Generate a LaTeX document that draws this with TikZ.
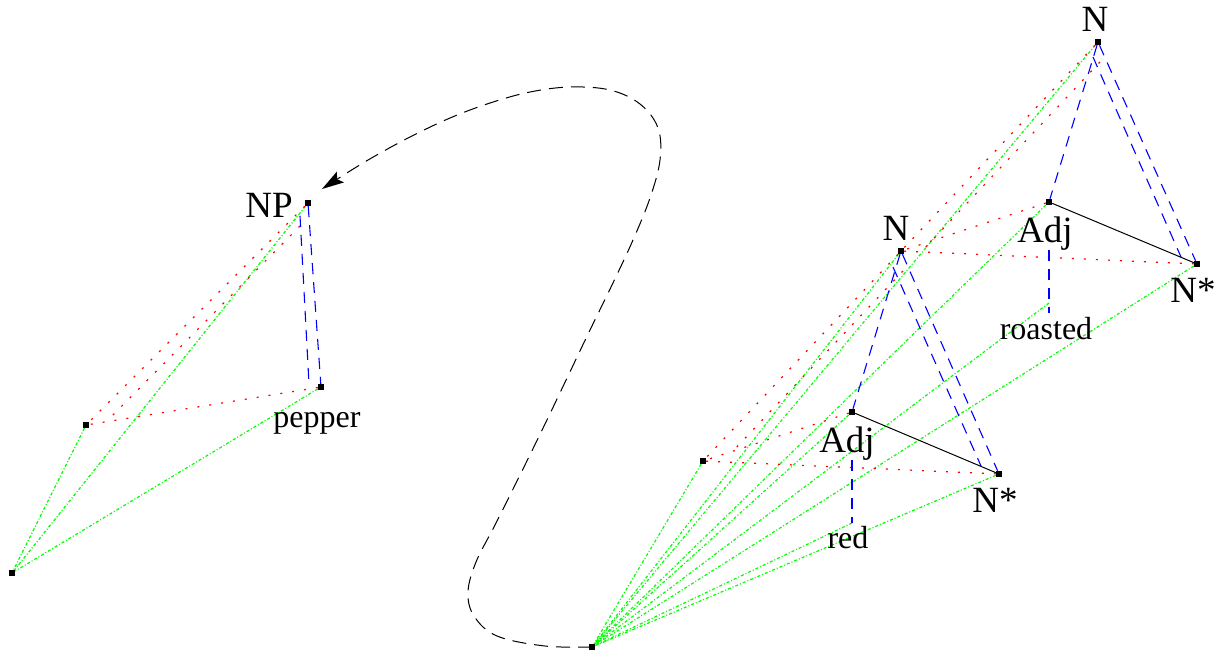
\documentclass[tikz,border=0pt]{standalone}
\usepackage{fontspec}
\setmainfont{Liberation Serif}
\usetikzlibrary{arrows.meta}
\begin{document}
\begin{tikzpicture}[x=1pt,y=-1pt,
  pt/.style={fill=black,draw=none,inner sep=0pt,minimum size=6pt,rectangle},
  big/.style={font=\fontsize{37}{40}\selectfont,inner sep=0pt,anchor=base},
  small/.style={font=\fontsize{32}{34}\selectfont,inner sep=0pt,anchor=base},
  bl/.style={blue,line width=1.1pt,dash pattern=on 11pt off 8pt},
  rd/.style={red,line width=1.2pt,dash pattern=on 2pt off 10pt},
  gr/.style={green,line width=1.2pt,dash pattern=on 3pt off 2pt on 1pt off 2pt},
  sl/.style={black,line width=1pt},
  cv/.style={black,line width=1pt,dash pattern=on 14pt off 8pt},
  kite/.tip={Stealth[length=22pt,width=13pt,inset=4pt,line width=0pt]}
]
\useasboundingbox (0,0) rectangle (1220,656);
% points
\node[pt] (NP) at (308,203) {};
\node[pt] (pep) at (321,387) {};
\node[pt] (lm) at (86,425) {};
\node[pt] (lb) at (12,573) {};
\node[pt] (Nt) at (1098,42) {};
\node[pt] (At) at (1049,202) {};
\node[pt] (Nst) at (1197,264) {};
\node[pt] (Nm) at (901,251) {};
\node[pt] (Al) at (852,412) {};
\node[pt] (Nsl) at (999,474) {};
\node[pt] (rl) at (703,461) {};
\node[pt] (rb) at (592,647) {};
% auxiliary coordinates
\coordinate (AtB) at (1049,250);
\coordinate (Rt) at (1049,313);
\coordinate (RtG) at (1049,303);
\coordinate (AlB) at (852,460);
\coordinate (Rl) at (852,523);
\coordinate (lbB1) at (300,216);
\coordinate (lbB2) at (309,384);
\coordinate (lrB1) at (300,226);
\coordinate (lrB2) at (107,421);
\coordinate (tbB1) at (1093,57);
\coordinate (tbB2) at (1181,257);
\coordinate (trB1) at (1100,62);
\coordinate (trB2) at (921,252);
\coordinate (mbB1) at (893,267);
\coordinate (mbB2) at (981,466);
\coordinate (mrB1) at (903,271);
\coordinate (mrB2) at (733,451);
\coordinate (tip) at (322,189);
% green lines
\draw[gr] (NP) -- (lb);
\draw[gr] (pep) -- (lb);
\draw[gr] (lm) -- (lb);
\foreach \p in {Nt,At,Nst,RtG,Nm,Al,Nsl,Rl,rl}
  \draw[gr] (\p) -- (rb);
% red lines
\draw[rd] (NP) -- (lm);
\draw[rd] (lrB1) -- (lrB2);
\draw[rd] (pep) -- (lm);
\draw[rd] (Nt) -- (Nm);
\draw[rd] (trB1) -- (trB2);
\draw[rd] (At) -- (Nm);
\draw[rd] (Nst) -- (Nm);
\draw[rd] (Nm) -- (rl);
\draw[rd] (mrB1) -- (mrB2);
\draw[rd] (Al) -- (rl);
\draw[rd] (Nsl) -- (rl);
% blue lines
\draw[bl] (NP) -- (pep);
\draw[bl] (lbB1) -- (lbB2);
\draw[bl] (Nt) -- (At);
\draw[bl] (Nt) -- (Nst);
\draw[bl] (tbB1) -- (tbB2);
\draw[bl] (AtB) -- (Rt);
\draw[bl] (Nm) -- (Al);
\draw[bl] (Nm) -- (Nsl);
\draw[bl] (mbB1) -- (mbB2);
\draw[bl] (AlB) -- (Rl);
% black solid
\draw[sl] (At) -- (Nst);
\draw[sl] (Al) -- (Nsl);
% curve
\draw[cv,-kite] plot[smooth,tension=0.6] coordinates {(rb) (545,646) (497,636) (474,616) (468,592) (476,562) (495,525) (520,475) (545,424) (568,376) (590,330) (612,285) (633,240) (650,198) (660,160) (658,128) (640,104) (610,90) (570,87) (530,92) (490,103) (450,118) (410,137) (375,156) (350,171) (tip)};
% labels
\node[big] (NPl) at (269,217) {NP};
\node[small] (pepl) at (317,427) {pepper};
\node[big] (Ntl) at (1095,31) {N};
\node[big] (Atl) at (1045,242) {Adj};
\node[big] (Nstl) at (1193,302) {N*};
\node[small] (Rtl) at (1046,339) {roasted};
\node[big] (Nml) at (896,240) {N};
\node[big] (All) at (847,452) {Adj};
\node[big] (Nsll) at (995,512) {N*};
\node[small] (Rll) at (848,548) {red};
\end{tikzpicture}
\end{document}
